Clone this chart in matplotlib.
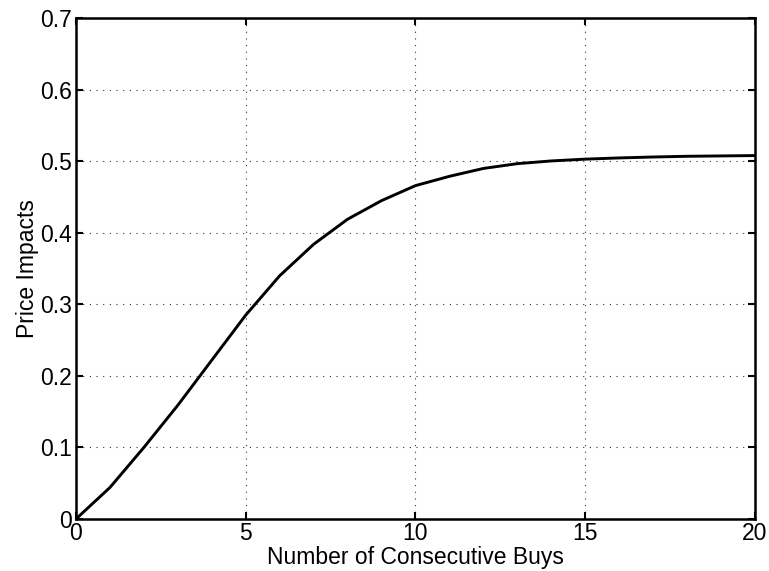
import matplotlib.pyplot as plt

# number of consecutive buys and the price impact
buys = [0, 1, 2, 3, 4, 5, 6, 7, 8, 9, 10,
        11, 12, 13, 14, 15, 16, 17, 18, 19, 20]
impact = [0.0, 0.044, 0.100, 0.159, 0.222, 0.285, 0.340, 0.384, 0.419, 0.445, 0.466,
          0.479, 0.490, 0.4967, 0.5005, 0.503, 0.5047, 0.506, 0.507, 0.5075, 0.508]

xticks = [0, 5, 10, 15, 20]
yticks = [0, 0.1, 0.2, 0.3, 0.4, 0.5, 0.6, 0.7]

plt.rcParams['font.family'] = ['Liberation Sans', 'DejaVu Sans']

fig = plt.figure(figsize=(7.69, 5.71), dpi=100)
ax = fig.add_axes([0.0988, 0.0911, 0.883, 0.877])

ax.plot(buys, impact, color='black', linewidth=2.1)

ax.set_xlim(0, 20)
ax.set_ylim(0, 0.7)
ax.set_xticks(xticks)
ax.set_yticks(yticks)
ax.set_xticklabels([str(t) for t in xticks])
ax.set_yticklabels(['0', '0.1', '0.2', '0.3', '0.4', '0.5', '0.6', '0.7'])

ax.grid(True, linestyle=(0, (1, 5)), color='#333333', linewidth=0.8)
ax.tick_params(direction='in', length=5, width=1.5, labelsize=16.5,
               top=True, right=True)
ax.tick_params(axis='x', pad=2)
ax.tick_params(axis='y', pad=3)
for s in ax.spines.values():
    s.set_linewidth(1.8)

ax.set_xlabel('Number of Consecutive Buys', fontsize=16.5, labelpad=1)
ax.set_ylabel('Price Impacts', fontsize=16.5, labelpad=1)

fig.savefig('out.png', dpi=100)
